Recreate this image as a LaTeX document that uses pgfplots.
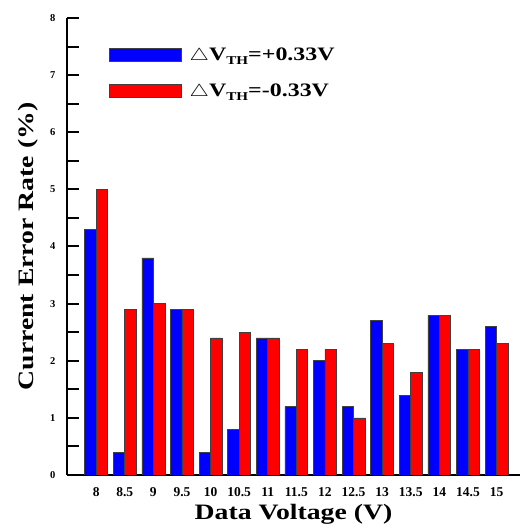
\documentclass[border=0pt]{standalone}
\usepackage{pgfplots}
\pgfplotsset{compat=1.18}
\usepackage{fontspec}
\setmainfont{Liberation Serif}
\definecolor{barblue}{RGB}{0,0,255}
\definecolor{barred}{RGB}{255,0,0}
\newcommand{\wide}[1]{\scalebox{1.26}[1]{#1}}

\begin{document}
\begin{tikzpicture}
\begin{axis}[
    scale only axis,
    width=453pt, height=457pt,
    xmin=7.49, xmax=15.41, ymin=0, ymax=8,
    axis lines=left,
    axis line style={-, line width=2.4pt},
    ybar=0pt, bar width=0.2,
    xtick=\empty,
    extra x ticks={8,8.5,9,9.5,10,10.5,11,11.5,12,12.5,13,13.5,14,14.5,15},
    extra x tick labels={8,8.5,9,9.5,10,10.5,11,11.5,12,12.5,13,13.5,14,14.5,15},
    extra x tick style={major tick length=0pt,
        tick label style={font=\fontsize{13.5}{15}\selectfont\bfseries, yshift=-9pt}},
    ytick={0,1,...,8},
    minor y tick num=1,
    tick align=inside,
    tick style={line width=2pt, black},
    major tick length=12.5pt, minor tick length=12.5pt,
    y tick label style={font=\fontsize{10.5}{12}\selectfont\bfseries, xshift=-8pt},
    /pgf/number format/assume math mode=true,
    xlabel={\wide{Data Voltage (V)}},
    ylabel={\wide{Current Error Rate (\%)}},
    xlabel style={font=\fontsize{22}{24}\selectfont\bfseries, yshift=-1pt},
    ylabel style={font=\fontsize{22}{24}\selectfont\bfseries, yshift=5pt},
    legend style={draw=none, fill=none, at={(0.086,0.944)}, anchor=north west,
        font=\fontsize{19}{21}\selectfont\bfseries, row sep=18pt,
        cells={anchor=west}},
    legend image code/.code={\draw[#1] (0pt,-6.5pt) rectangle (72pt,6.5pt);
        \path (78pt,0pt);},
]
\coordinate (O) at (rel axis cs:0,0);
\addplot[fill=barblue, draw=gray!50!black, line width=0.6pt] coordinates {
 (8,4.3) (8.5,0.4) (9,3.8) (9.5,2.9) (10,0.4) (10.5,0.8) (11,2.4) (11.5,1.2)
 (12,2.0) (12.5,1.2) (13,2.7) (13.5,1.4) (14,2.8) (14.5,2.2) (15,2.6)};
\addlegendentry{\wide{$\triangle$V\raisebox{-0.45ex}{\fontsize{12}{12}\selectfont TH}=+0.33V}}
\addplot[fill=barred, draw=gray!50!black, line width=0.6pt] coordinates {
 (8,5.0) (8.5,2.9) (9,3.0) (9.5,2.9) (10,2.4) (10.5,2.5) (11,2.4) (11.5,2.2)
 (12,2.2) (12.5,1.0) (13,2.3) (13.5,1.8) (14,2.8) (14.5,2.2) (15,2.3)};
\addlegendentry{\wide{$\triangle$V\raisebox{-0.45ex}{\fontsize{12}{12}\selectfont TH}=-0.33V}}
\end{axis}
\path (O) ++(-67pt,-53pt) rectangle ++(524pt,528pt);
\end{tikzpicture}
\end{document}
